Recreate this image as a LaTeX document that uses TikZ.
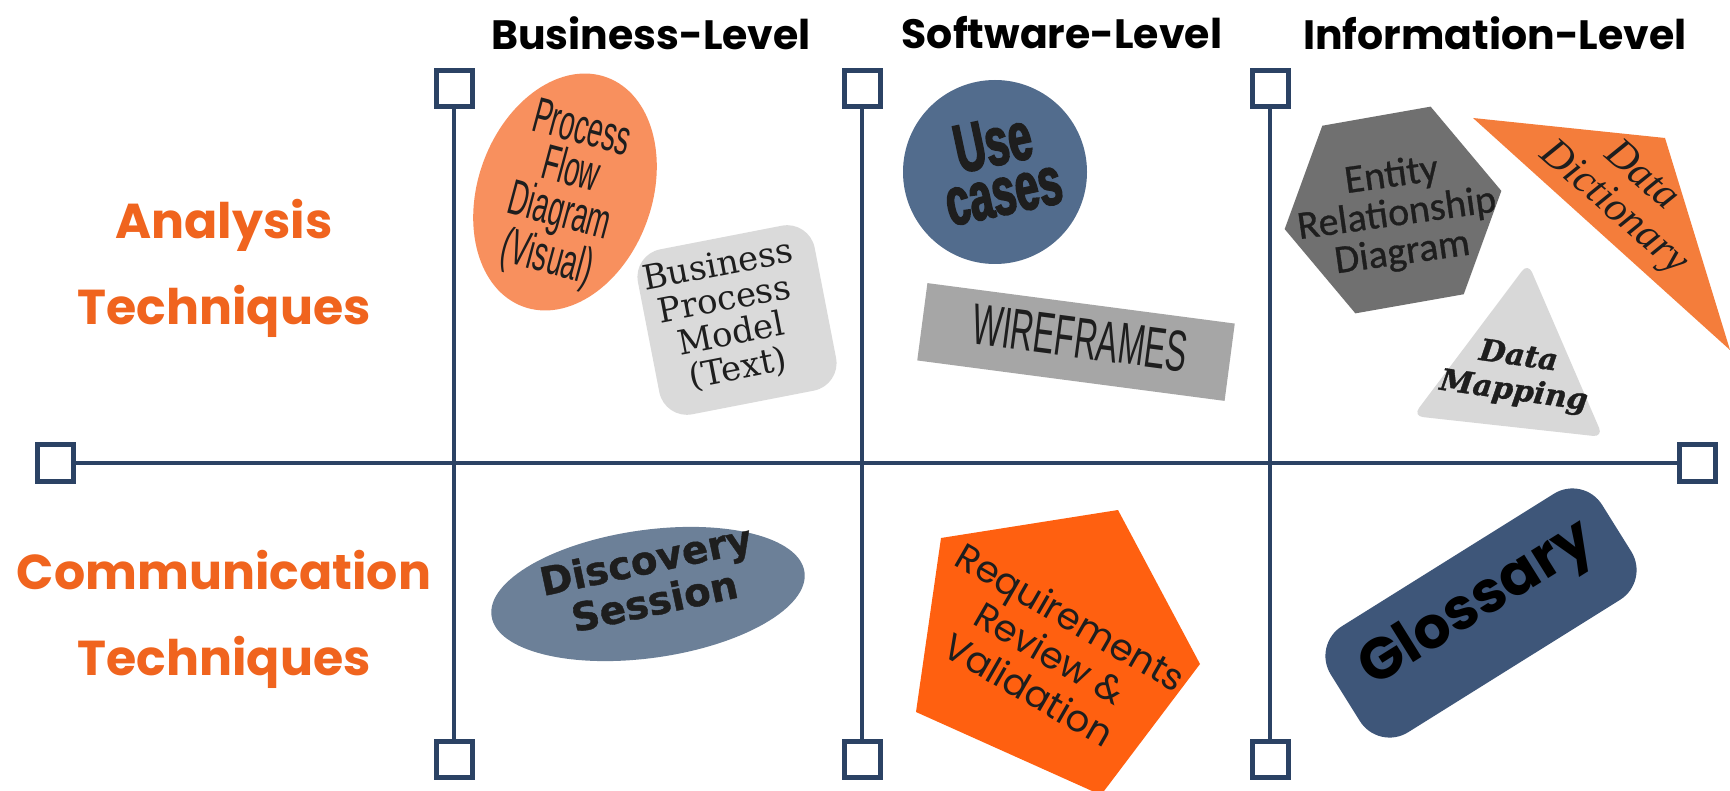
\documentclass[tikz,border=0pt]{standalone}
\usepackage{fontspec}
\usetikzlibrary{shapes.geometric}
\newfontfamily\popfont{Poppins}
\newfontfamily\condfont[FakeStretch=0.55]{Liberation Sans}
\newfontfamily\heavyfont[FakeStretch=0.62,FakeBold=2.5]{Liberation Sans}
\newfontfamily\slabfont{DejaVu Serif}
\newfontfamily\erdfont[FakeBold=0.8]{Carlito}
\newfontfamily\ddscript{Liberation Serif}
\newfontfamily\boldsans[FakeBold=1]{DejaVu Sans}
\newfontfamily\dmfont[FakeBold=1.2]{DejaVu Serif}
\newcommand\fsz[2]{\fontsize{#1}{#2}\selectfont}
\definecolor{axisblue}{HTML}{2B4264}
\definecolor{rowor}{HTML}{F0641E}
\definecolor{pfdor}{HTML}{F8905E}
\definecolor{bpmgray}{HTML}{DADADA}
\definecolor{ucblue}{HTML}{526C8D}
\definecolor{wfgray}{HTML}{A6A6A6}
\definecolor{erdgray}{HTML}{707070}
\definecolor{ddor}{HTML}{F47D3B}
\definecolor{dmgray}{HTML}{D8D8D8}
\definecolor{discblue}{HTML}{6C8098}
\definecolor{reqor}{HTML}{FF6010}
\definecolor{glblue}{HTML}{3E5679}
\definecolor{darktext}{HTML}{1E1E1E}
\begin{document}
\begin{tikzpicture}[x=1pt,y=-1pt,
  axisline/.style={draw=axisblue,line width=4.8pt},
  endsq/.style={draw=axisblue,line width=5pt,fill=white,minimum size=36pt,inner sep=0pt},
  head/.style={font=\popfont\bfseries\fsz{41}{44},text=black,inner sep=0pt},
  rowlab/.style={font=\popfont\bfseries\fsz{49}{86},text=rowor,align=center,inner sep=0pt},
  shapetext/.style={align=center,inner sep=0pt,text=darktext}]
\useasboundingbox[fill=white] (0,0) rectangle (1730,791);
% headings
\node[head] (hbus) at (651,33) {Business-Level};
\node[head] (hsw) at (1062,33) {Software-Level};
\node[head] (hinf) at (1495,33) {Information-Level};
% row labels
\node[rowlab] (ra) at (224,268) {Analysis\\Techniques};
\node[rowlab] (rc) at (224,619) {Communication\\Techniques};
% axes
\node[endsq] (t1) at (454,89) {};
\node[endsq] (b1) at (454,759) {};
\node[endsq] (t2) at (862,89) {};
\node[endsq] (b2) at (862,759) {};
\node[endsq] (t3) at (1270,89) {};
\node[endsq] (b3) at (1270,759) {};
\node[endsq] (lsq) at (55,463) {};
\node[endsq] (rsq) at (1697,463) {};
\draw[axisline] (t1) -- (b1);
\draw[axisline] (t2) -- (b2);
\draw[axisline] (t3) -- (b3);
\draw[axisline] (lsq) -- (rsq);
% Process flow diagram
\node[ellipse,fill=pfdor,minimum width=174pt,minimum height=244pt,inner sep=0pt,rotate=-20] (pfd) at (565,192) {};
\node[shapetext,rotate=-15,font=\condfont\fsz{50}{43}] (pfdt) at (564,196) {Process\\Flow\\Diagram\\(Visual)};
% Business process model
\node[rectangle,rounded corners=28pt,fill=bpmgray,minimum width=180pt,minimum height=168pt,rotate=11] (bpm) at (737,320) {};
\node[shapetext,rotate=11,font=\slabfont\fsz{34}{35}] (bpmt) at (728,318) {Business\\Process\\Model\\(Text)};
% Use cases
\node[circle,fill=ucblue,minimum size=184pt,inner sep=0pt] (uc) at (995,172) {};
\node[shapetext,rotate=12,font=\heavyfont\bfseries\fsz{68}{50}] (uct) at (998,167) {Use\\cases};
% Wireframes
\node[rectangle,fill=wfgray,minimum width=310pt,minimum height=78pt,rotate=-7.5] (wf) at (1076,342) {};
\node[shapetext,rotate=-7.5,font=\condfont\fsz{58}{58}] (wft) at (1080,338) {WIREFRAMES};
% ERD
\node[regular polygon,regular polygon sides=6,fill=erdgray,minimum size=220pt,inner sep=0pt,rotate=10] (erd) at (1393,210) {};
\node[shapetext,rotate=8,font=\erdfont\fsz{40}{39}] (erdt) at (1397,215) {Entity\\Relationship\\Diagram};
% Data dictionary
\coordinate (dd1) at (1473,118);
\coordinate (dd2) at (1665,138);
\coordinate (dd3) at (1730,350);
\fill[ddor] (dd1) -- (dd2) -- (dd3) -- cycle;
\node[shapetext,rotate=-41,font=\ddscript\itshape\fsz{42}{42}] (ddt) at (1627,193) {Data\\Dictionary};
% Data mapping
\coordinate (dm1) at (1528,263);
\coordinate (dm2) at (1603,437);
\coordinate (dm3) at (1413,416);
\fill[dmgray,rounded corners=10pt] (dm1) -- (dm2) -- (dm3) -- cycle;
\node[shapetext,rotate=-8,font=\dmfont\bfseries\itshape\fsz{30}{35}] (dmt) at (1516,375) {Data\\Mapping};
% Discovery session
\node[ellipse,fill=discblue,minimum width=316pt,minimum height=128pt,inner sep=0pt,rotate=8] (ds) at (648,594) {};
\node[shapetext,rotate=12,font=\boldsans\bfseries\fsz{39}{42}] (dst) at (650,580) {Discovery\\Session};
% Requirements
\coordinate (rq1) at (941,538);
\coordinate (rq2) at (1118,510);
\coordinate (rq3) at (1200,664);
\coordinate (rq4) at (1101,795);
\coordinate (rq5) at (916,712);
\fill[reqor] (rq1) -- (rq2) -- (rq3) -- (rq4) -- (rq5) -- cycle;
\node[shapetext,rotate=-30,font=\popfont\fsz{37}{42}] (rqt) at (1050,653) {Requirements\\Review \&\\Validation};
% Glossary
\node[rectangle,rounded corners=35pt,fill=glblue,minimum width=320pt,minimum height=125pt,rotate=32] (gl) at (1481,613) {};
\node[shapetext,rotate=32,font=\popfont\bfseries\fsz{58}{60},text=black] (glt) at (1478,606) {Glossary};
\end{tikzpicture}
\end{document}
